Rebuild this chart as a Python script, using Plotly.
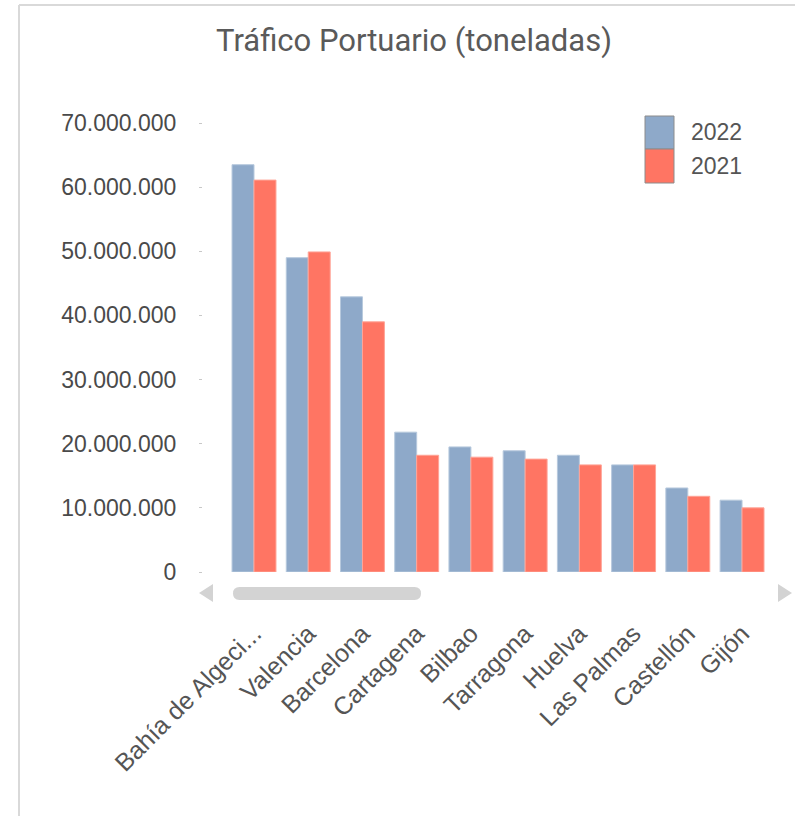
import plotly.graph_objects as go

# ---- data ----
categories = ["Bahía de Algeci...", "Valencia", "Barcelona", "Cartagena", "Bilbao",
              "Tarragona", "Huelva", "Las Palmas", "Castellón", "Gijón"]
values_2022 = [63500000, 49000000, 42900000, 21800000, 19500000,
               18900000, 18200000, 16700000, 13100000, 11200000]
values_2021 = [61100000, 49900000, 39000000, 18200000, 17900000,
               17600000, 16700000, 16700000, 11800000, 10000000]
series_names = ["2022", "2021"]
y_ticks = [0, 10000000, 20000000, 30000000, 40000000, 50000000, 60000000, 70000000]
title_text = "Tráfico Portuario (toneladas)"

# ---- style ----
BLUE = "#8EA9C9"
RED = "#FF7563"
TXT = "#555555"
SANS = "Liberation Sans, Arial, sans-serif"

W, H = 795, 816
L, R, T, B = 203, 15, 123, 244
PW, PH = W - L - R, H - T - B


def px(x):
    return (x - L) / PW


def py(y):
    return (H - B - y) / PH


fig = go.Figure()
fig.add_trace(go.Bar(x=categories, y=values_2022, name=series_names[0],
                     marker=dict(color=BLUE, line=dict(color="#B7C9DD", width=1)),
                     showlegend=False))
fig.add_trace(go.Bar(x=categories, y=values_2021, name=series_names[1],
                     marker=dict(color=RED, line=dict(color="#FFA497", width=1)),
                     showlegend=False))

shapes = []
# frame (top and left border)
shapes.append(dict(type="line", xref="paper", yref="paper", x0=px(19), x1=px(W + 5),
                   y0=py(5), y1=py(5), line=dict(color="#D9D9D9", width=2)))
shapes.append(dict(type="line", xref="paper", yref="paper", x0=px(19), x1=px(19),
                   y0=py(5), y1=py(H + 5), line=dict(color="#D9D9D9", width=2)))
# scrollbar arrows
shapes.append(dict(type="path", xref="paper", yref="paper",
                   path=f"M {px(213)} {py(584)} L {px(213)} {py(602)} L {px(199)} {py(593)} Z",
                   fillcolor="#D3D3D3", line=dict(width=0)))
shapes.append(dict(type="path", xref="paper", yref="paper",
                   path=f"M {px(778)} {py(584)} L {px(778)} {py(602)} L {px(792)} {py(593)} Z",
                   fillcolor="#D3D3D3", line=dict(width=0)))
# scrollbar thumb (rounded)
x0, x1, y0, y1, rr = 233, 421, 587, 600, 6.5
path = (f"M {px(x0 + rr)} {py(y0)} L {px(x1 - rr)} {py(y0)} "
        f"Q {px(x1)} {py(y0)} {px(x1)} {py((y0 + y1) / 2)} "
        f"Q {px(x1)} {py(y1)} {px(x1 - rr)} {py(y1)} "
        f"L {px(x0 + rr)} {py(y1)} "
        f"Q {px(x0)} {py(y1)} {px(x0)} {py((y0 + y1) / 2)} "
        f"Q {px(x0)} {py(y0)} {px(x0 + rr)} {py(y0)} Z")
shapes.append(dict(type="path", xref="paper", yref="paper", path=path,
                   fillcolor="#D3D3D3", line=dict(width=0)))
# legend swatches
shapes.append(dict(type="rect", xref="paper", yref="paper", x0=px(645), x1=px(674),
                   y0=py(116), y1=py(149), fillcolor=BLUE, line=dict(color="#8C8C8C", width=1)))
shapes.append(dict(type="rect", xref="paper", yref="paper", x0=px(645), x1=px(674),
                   y0=py(149), y1=py(183), fillcolor=RED, line=dict(color="#8C8C8C", width=1)))

annotations = [
    dict(text=series_names[0], xref="paper", yref="paper", x=px(689), y=py(132),
         xanchor="left", yanchor="middle", showarrow=False,
         font=dict(family=SANS, size=23, color=TXT)),
    dict(text=series_names[1], xref="paper", yref="paper", x=px(689), y=py(166),
         xanchor="left", yanchor="middle", showarrow=False,
         font=dict(family=SANS, size=23, color=TXT)),
]

fig.update_layout(
    width=W, height=H,
    margin=dict(l=L, r=R, t=T, b=B, pad=0),
    paper_bgcolor="white", plot_bgcolor="white",
    separators=",.",
    barmode="group", bargap=0.19, bargroupgap=0,
    title=dict(text=title_text, x=px(414), xref="paper", xanchor="center",
               y=1 - 40 / H, yref="container", yanchor="middle",
               font=dict(family="Roboto, Arial, sans-serif", size=31, color="#5A5A5A")),
    shapes=shapes,
    annotations=annotations,
    showlegend=False,
)
fig.update_xaxes(
    range=[-0.9406, 9.70], showgrid=False, zeroline=False, showline=False,
    tickangle=-45, ticks="outside", ticklen=36, tickcolor="rgba(0,0,0,0)",
    tickfont=dict(family=SANS, size=25, color=TXT),
)
fig.update_yaxes(
    range=[0, 70000000], tickvals=y_ticks, tickformat=",d",
    showgrid=False, zeroline=False, showline=False,
    ticks="outside", ticklen=3, tickcolor="#C8C8C8", tickwidth=1,
    ticklabelstandoff=18,
    tickfont=dict(family=SANS, size=23, color="#4A4A4A"),
)

fig.write_html("out.html", config={"displayModeBar": False},
               post_script="document.body.style.margin='0';")
